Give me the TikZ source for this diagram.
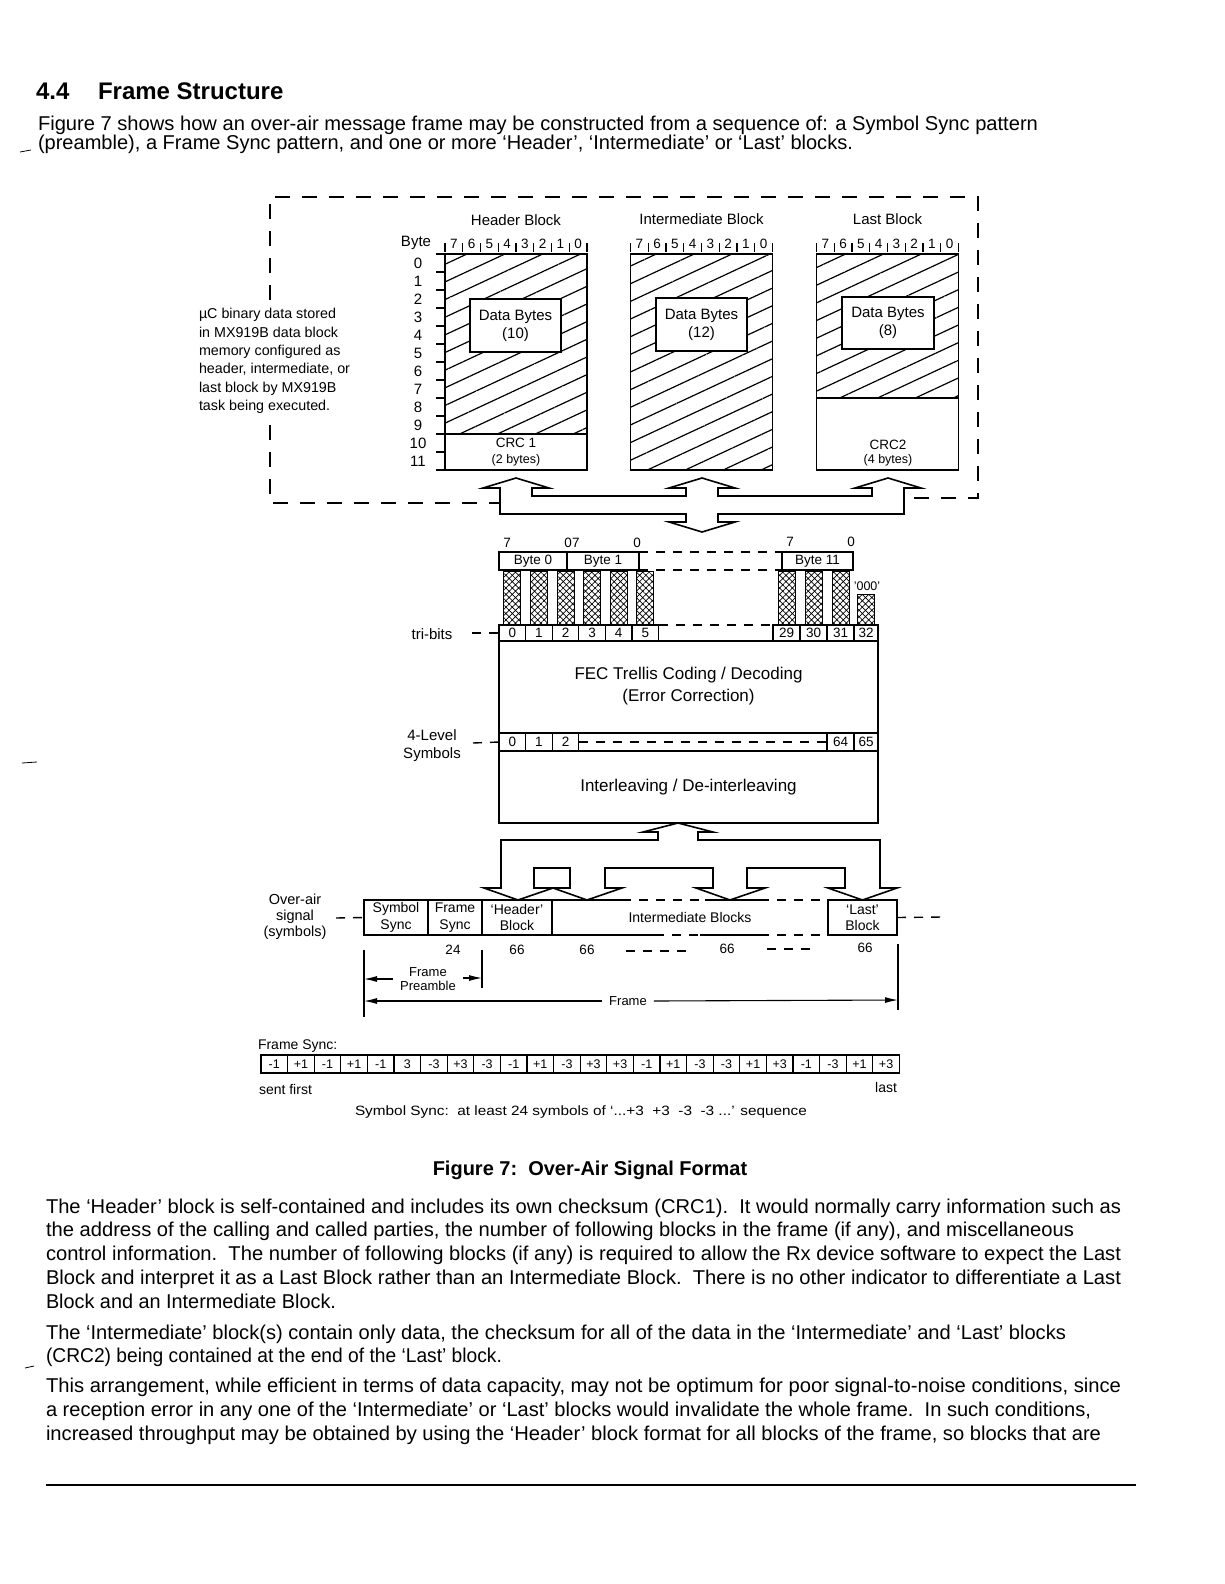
\documentclass[tikz,border=0pt]{standalone}
\usepackage{fontspec}
\setmainfont{Liberation Sans}
\usepackage{graphicx}
\usetikzlibrary{patterns.meta,arrows.meta}
\newcommand\fitto[2]{\resizebox{#1}{\height}{#2}}
\tikzset{
 every node/.style={inner sep=0pt,outer sep=0pt},
 bodytxt/.style={anchor=mid west,font=\fontsize{20}{23}\selectfont},
 lbl/.style={font=\fontsize{15}{18}\selectfont},
 sm/.style={font=\fontsize{13.5}{16.5}\selectfont},
 tny/.style={font=\fontsize{12.5}{15}\selectfont},
 bx/.style={draw,line width=1.3pt},
 ln/.style={line width=1.3pt},
 odash/.style={line width=2.4pt,dash pattern=on 15pt off 12pt},
 ldash/.style={line width=1.4pt,dash pattern=on 9pt off 8pt},
 hatchfill/.style={pattern={Lines[angle=25,distance=16pt,line width=1.2pt]}},
 xhatch/.style={pattern={Hatch[angle=45,distance=4.5pt,line width=0.7pt]}},
 busline/.style={draw,line width=1.6pt,fill=white,line join=miter},
 dimarrow/.style={line width=1.1pt,-{Latex[length=13pt,width=6pt]}},
}
\begin{document}
\begin{tikzpicture}[x=1pt,y=-1pt]
\useasboundingbox (0,0) rectangle (1224,1584);
\fill[white] (0,0) rectangle (1224,1584);

% ---------------- heading and intro
\node (t1) [anchor=mid west,font=\bfseries\fontsize{24}{28}\selectfont] at (36,97) {4.4};
\node (t2) [anchor=mid west,font=\bfseries\fontsize{24}{28}\selectfont] at (98,97) {Frame Structure};
\node (i1) [bodytxt] at (38,128) {\fitto{1000pt}{Figure 7 shows how an over-air message frame may be constructed from a sequence of: a Symbol Sync pattern}};
\node (i2) [bodytxt] at (38,147) {\fitto{815pt}{(preamble), a Frame Sync pattern, and one or more `Header', `Intermediate' or `Last' blocks.}};
\draw[line width=0.8pt] (20,152) -- (31,150);
\draw[line width=0.8pt] (22,763) -- (37,762);
\draw[line width=0.8pt] (25,1368) -- (34,1366);

% ---------------- outer dashed frame
\draw[odash] (270,300) -- (270,197) -- (978,197) -- (978,498) -- (904,498);
\draw[odash] (270,425) -- (270,503) -- (500,503);

% ---------------- left description
\foreach \t [count=\n from 0] in {{µC binary data stored},{in MX919B data block},{memory configured as},{header, intermediate, or},{last block by MX919B},{task being executed.}}
  \node (desc\n) [anchor=mid west,font=\fontsize{14.3}{17}\selectfont] at (199,316+18.4*\n) {\t};

% ---------------- header block
\fill[hatchfill] (445,254) rectangle (587,434);
\node (hdr) [bx,minimum width=142pt,minimum height=216pt] at (516,362) {};
\draw[ln] (445,434) -- (587,434);
\node (hdrdata) [bx,fill=white,minimum width=91pt,minimum height=53pt,align=center,lbl] at (515.5,325.5) {Data Bytes\\(10)};
\node (crc1a) [sm] at (516,443) {CRC 1};
\node (crc1b) [tny] at (516,460) {(2 bytes)};
\node (hdrt) [lbl] at (516,220) {Header Block};
\node (bytelbl) [lbl] at (416,243) {Byte};
\foreach \k in {0,...,11} \node (bn\k) [lbl] at (418,263+18*\k) {\k};
\foreach \k in {0,...,12} \draw[ln] (436,254+18*\k) -- (445,254+18*\k);

% ---------------- intermediate block
\fill[hatchfill] (630.5,254) rectangle (772.5,470);
\node (imb) [bx,minimum width=142pt,minimum height=216pt] at (701.5,362) {};
\node (imdata) [bx,fill=white,minimum width=91pt,minimum height=53pt,align=center,lbl] at (701.5,324.5) {Data Bytes\\(12)};
\node (imbt) [lbl] at (701.5,219) {Intermediate Block};

% ---------------- last block
\fill[hatchfill] (816.5,254) rectangle (958.5,398);
\node (lst) [bx,minimum width=142pt,minimum height=216pt] at (887.5,362) {};
\draw[ln] (816.5,398) -- (958.5,398);
\node (lstdata) [bx,fill=white,minimum width=92pt,minimum height=52pt,align=center,lbl] at (888,323) {Data Bytes\\(8)};
\node (crc2a) [sm] at (888,445) {CRC2};
\node (crc2b) [tny] at (888,460) {(4 bytes)};
\node (lstt) [lbl] at (887.5,219) {Last Block};

% bit numbers above blocks
\foreach \L/\nm in {445/h,630.5/i,816.5/l} {
  \foreach \i in {0,...,7} {
    \pgfmathtruncatemacro\d{7-\i}
    \node (bit\nm\i) [sm] at (\L+8.875+17.75*\i,244) {\d};
  }
  \foreach \i in {0,...,8} \draw[line width=1.1pt] (\L+17.75*\i,243) -- (\L+17.75*\i,252);
}

% ---------------- upper bus (hollow arrows)
\draw[busline] (500,514) -- (500,488) -- (483,488) -- (516,478) -- (549,488) -- (532,488) -- (532,496)
 -- (686,496) -- (686,488) -- (669,488) -- (702,478) -- (735,488) -- (718,488) -- (718,496)
 -- (872,496) -- (872,488) -- (855,488) -- (888,478) -- (921,488) -- (904,488) -- (904,514)
 -- (718,514) -- (718,522) -- (735,522) -- (702,532) -- (669,522) -- (686,522) -- (686,514) -- cycle;

% ---------------- byte / tri-bit section
\node (b0) [bx,minimum width=68pt,minimum height=18pt,sm] at (533,561) {Byte 0};
\node (b1) [bx,minimum width=72pt,minimum height=18pt,sm] at (603,561) {Byte 1};
\node (b11) [bx,minimum width=71pt,minimum height=18pt,sm] at (817.5,561) {Byte 11};
\draw[ldash] (b1.north east) -- (b11.north west);
\draw[ldash] (b1.south east) -- (b11.south west);
\node (bl7a) [sm] at (507,543) {7};
\node (bl07) [sm] at (572,543) {07};
\node (bl0a) [sm] at (637,543) {0};
\node (bl7b) [sm] at (790,542) {7};
\node (bl0b) [sm] at (851,542) {0};

\foreach \c in {0,...,5} {
  \node (col\c) [draw,line width=1pt,xhatch,minimum width=17pt,minimum height=54pt] at (512.3+26.6*\c,598) {};
  \node (t\c) [bx,minimum width=26.6pt,minimum height=16pt,sm] at (512.3+26.6*\c,633) {\c};
}
\foreach \c/\x in {29/786.5,30/813.5,31/840.5} {
  \node (col\c) [draw,line width=1pt,xhatch,minimum width=17pt,minimum height=54pt] at (\x,598) {};
  \node (t\c) [bx,minimum width=27pt,minimum height=16pt,sm] at (\x,633) {\c};
}
\node (col32) [draw,line width=1pt,xhatch,minimum width=17pt,minimum height=31pt] at (866,609.5) {};
\node (t32) [bx,minimum width=24pt,minimum height=16pt,sm] at (866,633) {32};
\node (zeros) [tny] at (867,586) {'000'};
\draw[ldash] (t5.north east) -- (t29.north west);

% FEC / interleave box
\draw[ln] (t0.north west) -- (499,823) -- (878,823) -- (t32.north east);
\draw[ln] (499,641) -- (878,641);
\node (fec) [align=center,font=\fontsize{17}{22}\selectfont] at (688.5,686) {FEC Trellis Coding / Decoding\\(Error Correction)};
\draw[ln] (499,733) -- (878,733);
\draw[ln] (499,751) -- (878,751);
\foreach \c in {0,1,2}
  \node (s\c) [bx,minimum width=26.6pt,minimum height=18pt,sm] at (512.3+26.6*\c,742) {\c};
\node (s64) [bx,minimum width=27pt,minimum height=18pt,sm] at (840.5,742) {64};
\node (s65) [bx,minimum width=24pt,minimum height=18pt,sm] at (866,742) {65};
\draw[ldash] (s2.east) -- (s64.west);
\node (ilv) [font=\fontsize{17}{22}\selectfont] at (688.5,787) {Interleaving / De-interleaving};

\node (tribits) [lbl] at (432,634) {tri-bits};
\coordinate (tbl) at (472,633);
\draw[ldash] (tbl) -- (t0.west);
\node (lev4) [lbl,align=center] at (432,746) {4-Level\\Symbols};
\coordinate (lvl) at (473,743);
\draw[ldash] (lvl) -- (s0.west);

% ---------------- lower bus (hollow arrows)
\draw[busline] (501,840) -- (658,840) -- (658,832) -- (643,832) -- (678,823) -- (713,832) -- (698,832) -- (698,840)
 -- (880,840) -- (880,888) -- (897,888) -- (862.5,900) -- (828,888) -- (845,888) -- (845,868)
 -- (747,868) -- (747,888) -- (765,888) -- (730,900) -- (696,888) -- (713,888) -- (713,868)
 -- (605,868) -- (605,888) -- (622,888) -- (587,900) -- (553,888) -- (570,888) -- (570,868)
 -- (534,868) -- (534,888) -- (553,888) -- (518,900) -- (484,888) -- (501,888) -- cycle;

% ---------------- over-air signal bar
\node (ss) [bx,minimum width=64pt,minimum height=35pt,align=center,font=\fontsize{14}{16.5}\selectfont] at (396,917.5) {Symbol\\Sync};
\node (fs) [bx,minimum width=54pt,minimum height=35pt,align=center,font=\fontsize{14}{16.5}\selectfont] at (455,917.5) {Frame\\Sync};
\node (hb) [bx,minimum width=70pt,minimum height=35pt,align=center,font=\fontsize{14}{16.5}\selectfont] at (517,917.5) {`Header'\\Block};
\node (lb) [bx,minimum width=69pt,minimum height=35pt,align=center,font=\fontsize{14}{16.5}\selectfont] at (862.5,917.5) {`Last'\\Block};
\node (ib) [font=\fontsize{14}{16.5}\selectfont] at (690,917) {Intermediate Blocks};
\draw[ln] (hb.north east) -- (622,900);
\draw[ldash] (622,900) -- (705,900);
\draw[ln] (705,900) -- (760,900);
\draw[ldash] (760,900) -- (lb.north west);
\draw[ln] (hb.south east) -- (655,935);
\draw[ldash] (655,935) -- (700,935);
\draw[ln] (700,935) -- (760,935);
\draw[ldash] (760,935) -- (lb.south west);

\node (oa) [align=center,font=\fontsize{14.5}{16}\selectfont] at (295,917) {Over-air\\signal\\(symbols)};
\coordinate (oal) at (336,918);
\draw[ldash] (oal) -- (ss.west);
\coordinate (oar) at (942,917);
\draw[ldash] (lb.east) -- (oar);

\node (n24) [sm] at (453,950) {24};
\node (n66a) [sm] at (517,950) {66};
\node (n66b) [sm] at (587,950) {66};
\draw[ldash] (626,951) -- (690,951);
\node (n66c) [sm] at (727,949) {66};
\draw[ldash] (767,949) -- (812,949);
\node (n66d) [sm] at (865,948) {66};

% dimension lines
\draw[ln] (364,950) -- (364,1017);
\draw[ln] (482,950) -- (482,988);
\draw[ln] (898,944) -- (898,1010);
\node (fpre) [align=center,font=\fontsize{13}{14}\selectfont] at (428,979) {Frame\\Preamble};
\coordinate (fpL) at (364,979);
\coordinate (fpR) at (482,978);
\coordinate (fpa) at (393,979);
\coordinate (fpb) at (463,978);
\draw[dimarrow] (fpa) -- (fpL);
\draw[dimarrow] (fpb) -- (fpR);
\node (frm) [font=\fontsize{13}{15}\selectfont,fill=white,inner xsep=7pt] at (628,1001) {Frame};
\coordinate (frL) at (364,1001);
\coordinate (frR) at (898,1000);
\draw[dimarrow] (frm.west) -- (frL);
\draw[dimarrow] (frm.east) -- (frR);

% ---------------- frame sync row
\node (fslab) [anchor=mid west,font=\fontsize{14}{16}\selectfont] at (258,1047) {Frame Sync:};
\foreach \v [count=\i from 0] in {-1,+1,-1,+1,-1,3,-3,+3,-3,-1,+1,-3,+3,+3,-1,+1,-3,-3,+1,+3,-1,-3,+1,+3}
  \node (fsv\i) [bx,minimum width=26.6pt,minimum height=18pt,tny] at (274.3+26.6*\i,1064) {\v};
\node (sent) [anchor=mid west,font=\fontsize{14}{16}\selectfont] at (259,1092) {sent first};
\node (lastl) [anchor=mid east,font=\fontsize{14}{16}\selectfont] at (897,1090) {last};
\node (ssnote) [anchor=mid west,font=\fontsize{13.5}{16}\selectfont] at (355,1113) {\fitto{452pt}{Symbol Sync:\ \ at least 24 symbols of `...+3\ \ +3\ \ -3\ \ -3 ...' sequence}};

% ---------------- caption and body text
\node (cap) [font=\bfseries\fontsize{20}{24}\selectfont] at (590,1170) {Figure 7:\ \ Over-Air Signal Format};

\node (p1a) [bodytxt] at (46,1211) {\fitto{1075pt}{The `Header' block is self-contained and includes its own checksum (CRC1).\ \ It would normally carry information such as}};
\node (p1b) [bodytxt] at (46,1234) {\fitto{1028pt}{the address of the calling and called parties, the number of following blocks in the frame (if any), and miscellaneous}};
\node (p1c) [bodytxt] at (46,1258) {\fitto{1075pt}{control information.\ \ The number of following blocks (if any) is required to allow the Rx device software to expect the Last}};
\node (p1d) [bodytxt] at (46,1282) {\fitto{1075pt}{Block and interpret it as a Last Block rather than an Intermediate Block.\ \ There is no other indicator to differentiate a Last}};
\node (p1e) [bodytxt] at (46,1306) {\fitto{290pt}{Block and an Intermediate Block.}};

\node (p2a) [bodytxt] at (46,1337) {\fitto{1020pt}{The `Intermediate' block(s) contain only data, the checksum for all of the data in the `Intermediate' and `Last' blocks}};
\node (p2b) [bodytxt] at (46,1360) {\fitto{456pt}{(CRC2) being contained at the end of the `Last' block.}};

\node (p3a) [bodytxt] at (46,1390) {\fitto{1075pt}{This arrangement, while efficient in terms of data capacity, may not be optimum for poor signal-to-noise conditions, since}};
\node (p3b) [bodytxt] at (46,1414) {\fitto{1045pt}{a reception error in any one of the `Intermediate' or `Last' blocks would invalidate the whole frame.\ \ In such conditions,}};
\node (p3c) [bodytxt] at (46,1438) {\fitto{1055pt}{increased throughput may be obtained by using the `Header' block format for all blocks of the frame, so blocks that are}};

\draw[line width=1.4pt] (46,1485) -- (1136,1485);
\end{tikzpicture}
\end{document}
